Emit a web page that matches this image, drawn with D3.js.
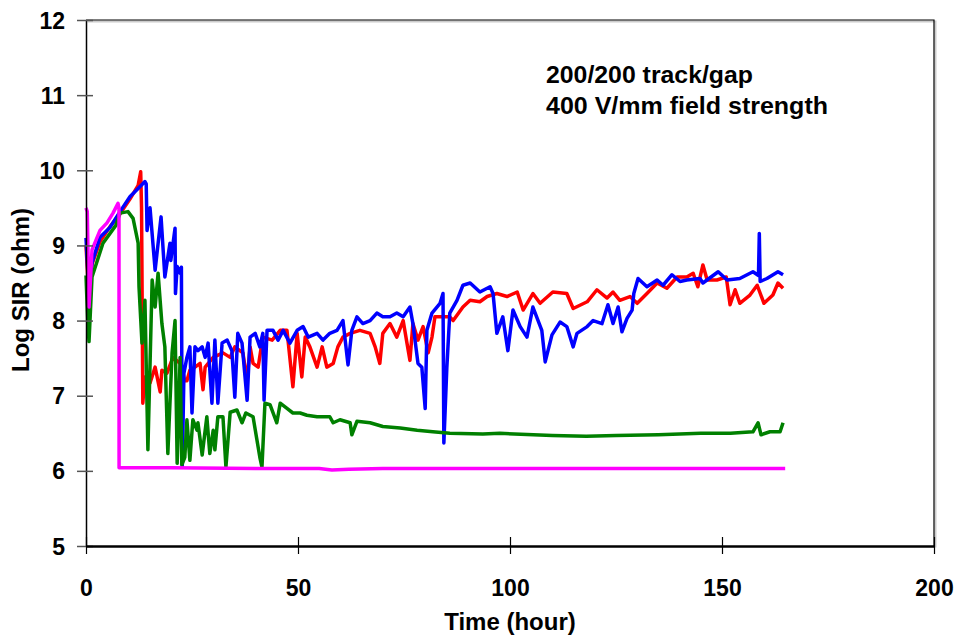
<!DOCTYPE html>
<html>
<head>
<meta charset="utf-8">
<script src="https://cdn.jsdelivr.net/npm/d3@7"></script>
<style>
  body { margin: 0; background: #fff; }
  text { font-family: "Liberation Sans", Arial, sans-serif; font-weight: bold; fill: #000; }
</style>
</head>
<body>
<svg id="chart" width="959" height="637"></svg>
<script>
// ticks
var xTicks = [0, 50, 100, 150, 200];
var yTicks = [5, 6, 7, 8, 9, 10, 11, 12];
var notes = ['200/200 track/gap', '400 V/mm field strength'];

// [time (hour), log SIR]
var redSeries = [[0,9.0],[0.71,8.3],[1.42,8.75],[3.3,9.05],[5.66,9.25],[8.02,9.42],[10.4,9.62],[12.3,9.8],[12.9,9.98],[13.1,9.5],[13.4,6.9],[13.9,7.25],[15.1,7.17],[16.3,7.38],[17.5,7.05],[17.9,7.34],[19.1,7.3],[20.5,7.51],[22.2,7.43],[23.3,7.2],[23.8,7.2],[24.5,7.34],[25.7,7.38],[26.9,7.43],[27.6,7.08],[28.1,7.38],[30.0,7.51],[32.3,7.57],[34.0,7.51],[35.1,7.65],[37.0,7.57],[38.0,7.2],[38.7,7.65],[39.4,7.43],[40.6,7.38],[41.7,7.78],[43.9,7.74],[45.8,7.87],[47.4,7.87],[48.8,7.12],[49.8,7.83],[50.9,7.25],[51.7,7.78],[52.8,7.65],[54.5,7.38],[55.7,7.65],[56.8,7.38],[58.3,7.43],[59.4,7.65],[60.6,7.78],[62.3,7.83],[64.6,7.87],[67.0,7.83],[68.2,7.65],[69.3,7.43],[70.0,7.83],[71.7,7.96],[73.3,7.78],[74.8,8.0],[75.7,7.7],[76.4,7.47],[77.1,7.96],[78.3,7.74],[79.5,7.92],[80.7,7.57],[81.6,7.78],[82.3,8.05],[83.5,8.05],[85.8,8.05],[86.6,8.0],[88.9,8.18],[90.6,8.27],[92.9,8.25],[94.6,8.32],[96.9,8.36],[99.3,8.32],[101.7,8.38],[103.1,8.14],[105.4,8.36],[107.1,8.23],[110.1,8.38],[113.4,8.36],[114.9,8.16],[118.2,8.25],[120.5,8.41],[122.9,8.3],[124.3,8.38],[125.9,8.27],[128.3,8.32],[130.0,8.23],[132.3,8.36],[134.7,8.5],[137.0,8.43],[139.4,8.58],[141.7,8.58],[143.2,8.63],[144.3,8.45],[145.5,8.74],[146.5,8.54],[148.8,8.54],[151.0,8.58],[151.9,8.21],[153.1,8.41],[154.2,8.23],[156.6,8.34],[158.3,8.47],[159.9,8.23],[162.0,8.34],[163.2,8.5],[164.4,8.43]];

var blueSeries = [[0,9.1],[0.71,8.35],[1.42,8.77],[3.3,9.11],[5.66,9.24],[8.02,9.45],[10.4,9.65],[12.7,9.78],[13.9,9.85],[14.2,9.82],[14.4,9.2],[15.1,9.5],[16.3,8.67],[17.7,9.38],[18.6,8.58],[19.8,9.03],[20.0,8.8],[21.0,9.23],[21.1,8.36],[21.5,8.72],[22.2,8.63],[22.5,8.71],[22.7,6.05],[23.1,7.3],[23.8,7.51],[24.5,7.65],[25.0,6.77],[25.7,7.65],[26.4,7.6],[27.4,7.65],[28.1,7.51],[28.8,7.7],[29.7,6.9],[30.4,7.74],[31.1,6.9],[32.1,7.7],[33.3,7.74],[34.4,7.6],[35.1,6.98],[35.8,7.83],[36.8,7.7],[38.0,6.94],[38.7,7.78],[39.9,7.83],[41.0,7.65],[41.7,7.83],[42.0,6.94],[42.7,7.87],[44.1,7.87],[45.3,7.74],[46.5,7.87],[48.1,7.7],[49.8,7.87],[51.2,7.92],[52.4,7.78],[54.5,7.83],[55.9,7.74],[57.5,7.83],[59.2,7.87],[60.6,8.0],[61.8,7.41],[62.7,7.87],[63.9,8.05],[65.3,7.96],[67.0,8.0],[68.6,8.1],[70.0,8.05],[71.7,8.05],[73.3,8.1],[74.8,8.05],[76.4,8.18],[77.1,7.96],[78.3,7.43],[79.2,7.38],[80.0,6.83],[80.4,7.87],[81.6,8.1],[83.5,8.23],[84.2,8.36],[84.4,6.37],[85.1,7.37],[85.8,8.1],[87.5,8.27],[88.9,8.47],[90.6,8.5],[92.9,8.38],[95.3,8.45],[96.0,8.36],[96.9,7.83],[98.3,8.05],[99.5,7.6],[100.7,8.14],[102.4,7.92],[104.0,7.78],[105.4,8.18],[107.5,7.87],[108.3,7.45],[109.9,7.81],[111.8,7.98],[113.4,7.92],[114.9,7.65],[115.8,7.83],[118.2,7.92],[119.6,8.0],[121.7,7.96],[123.1,8.21],[124.3,7.96],[125.5,8.18],[126.4,7.85],[127.6,8.03],[128.8,8.14],[129.2,8.36],[130.2,8.56],[132.3,8.45],[134.7,8.54],[136.1,8.47],[138.2,8.61],[140.1,8.52],[141.7,8.54],[144.8,8.56],[145.5,8.5],[149.1,8.65],[151.2,8.54],[154.2,8.56],[157.3,8.65],[158.6,8.6],[158.8,9.16],[159.0,8.52],[160.6,8.56],[163.2,8.65],[164.4,8.61]];

var greenSeries = [[0,8.6],[0.4,8.0],[0.71,7.72],[1.42,8.58],[4.0,9.03],[7.08,9.27],[8.02,9.43],[9.9,9.45],[11.1,9.36],[12.3,9.03],[12.5,8.45],[13.2,7.7],[13.9,8.27],[14.6,6.28],[15.6,8.54],[16.3,8.18],[17.0,8.63],[17.9,7.96],[18.6,7.65],[19.3,6.23],[20.3,7.57],[21.0,8.0],[21.5,6.1],[22.2,7.51],[22.6,6.08],[23.3,6.18],[23.8,6.68],[24.5,6.14],[25.2,6.68],[26.2,6.54],[26.4,6.64],[27.4,6.21],[28.5,6.72],[29.2,6.23],[30.0,6.54],[30.4,6.28],[31.1,6.72],[32.3,6.72],[33.0,6.05],[34.0,6.78],[35.6,6.81],[36.8,6.64],[37.7,6.77],[39.4,6.72],[41.0,6.18],[41.5,6.05],[42.2,6.9],[43.4,6.88],[45.0,6.64],[45.8,6.9],[47.4,6.83],[48.8,6.77],[50.5,6.77],[52.1,6.74],[54.5,6.72],[57.5,6.72],[58.3,6.64],[59.9,6.68],[62.3,6.64],[62.7,6.48],[63.9,6.66],[67.0,6.64],[70.0,6.59],[74.1,6.57],[78.1,6.54],[81.8,6.52],[85.8,6.5],[93.6,6.49],[97.6,6.5],[110,6.47],[118,6.46],[125,6.47],[135,6.48],[145,6.5],[152,6.5],[157.3,6.52],[158.5,6.64],[159.2,6.48],[161.3,6.52],[163.7,6.52],[164.4,6.64]];

var magentaSeries = [[0,9.5],[0.3,9.45],[0.71,8.18],[1.42,8.94],[3.3,9.2],[4.95,9.3],[6.37,9.43],[7.55,9.56],[7.78,9.5],[7.8,6.04],[20,6.04],[40,6.03],[55,6.03],[58,6.01],[62,6.02],[70,6.03],[100,6.03],[130,6.03],[164.9,6.03]];

var svg = d3.select('#chart');
var x = d3.scaleLinear().domain([0, 200]).range([86, 934]);
var y = d3.scaleLinear().domain([5, 12]).range([546, 20]);

// plot frame (top + right) with a faint shadow
svg.append('path').attr('d', 'M86,20H934V546').attr('fill', 'none').attr('stroke', '#ccc').attr('stroke-width', 2).attr('transform', 'translate(1.5,1.5)');
svg.append('path').attr('d', 'M86,20H934V546').attr('fill', 'none').attr('stroke', '#000').attr('stroke-width', 1.2);

var line = d3.line().x(function (d) { return x(d[0]); }).y(function (d) { return y(d[1]); });

var series = [
  { data: redSeries, color: '#ff0000' },
  { data: blueSeries, color: '#0000ff' },
  { data: greenSeries, color: '#008000' },
  { data: magentaSeries, color: '#ff00ff' }
];
series.forEach(function (s) {
  svg.append('path').datum(s.data).attr('d', line)
    .attr('fill', 'none').attr('stroke', s.color).attr('stroke-width', 3.5)
    .attr('stroke-linejoin', 'round');
});

// y axis
var ya = svg.append('g').attr('transform', 'translate(86,0)')
  .call(d3.axisLeft(y).tickValues(yTicks).tickFormat(d3.format('d')).tickSizeOuter(0));
ya.select('.domain').attr('stroke', '#000').attr('stroke-width', 1.5);
ya.selectAll('.tick line').attr('x1', -9).attr('x2', 7).attr('stroke', '#555').attr('stroke-width', 1.5);
ya.selectAll('.tick text').attr('x', -21).attr('dy', '0.35em').style('font-size', '23px');

// x axis
var xa = svg.append('g').attr('transform', 'translate(0,546)')
  .call(d3.axisBottom(x).tickValues(xTicks).tickFormat(d3.format('d')).tickSizeOuter(0));
xa.select('.domain').attr('stroke', '#000').attr('stroke-width', 2.5);
xa.selectAll('.tick line').attr('y1', -9).attr('y2', 8).attr('stroke', '#000').attr('stroke-width', 1.2);
xa.selectAll('.tick text').attr('y', 50).attr('dy', 0).style('font-size', '23px');
ya.selectAll('text').attr('font-family', null);
xa.selectAll('text').attr('font-family', null);

// axis titles
svg.append('text').attr('x', 510).attr('y', 630).attr('text-anchor', 'middle').style('font-size', '24px').text('Time (hour)');
svg.append('text').attr('transform', 'translate(29,290) rotate(-90)').attr('text-anchor', 'middle').style('font-size', '24px').text('Log SIR (ohm)');

// annotation, stretched to the widths seen in the picture
var noteWidths = [207, 282];
svg.selectAll('.note').data(notes).enter().append('text').attr('class', 'note')
  .attr('x', 546).attr('y', function (d, i) { return 83 + i * 31; })
  .attr('textLength', function (d, i) { return noteWidths[i]; })
  .attr('lengthAdjust', 'spacingAndGlyphs')
  .style('font-size', '24px').text(function (d) { return d; });
</script>
</body>
</html>
